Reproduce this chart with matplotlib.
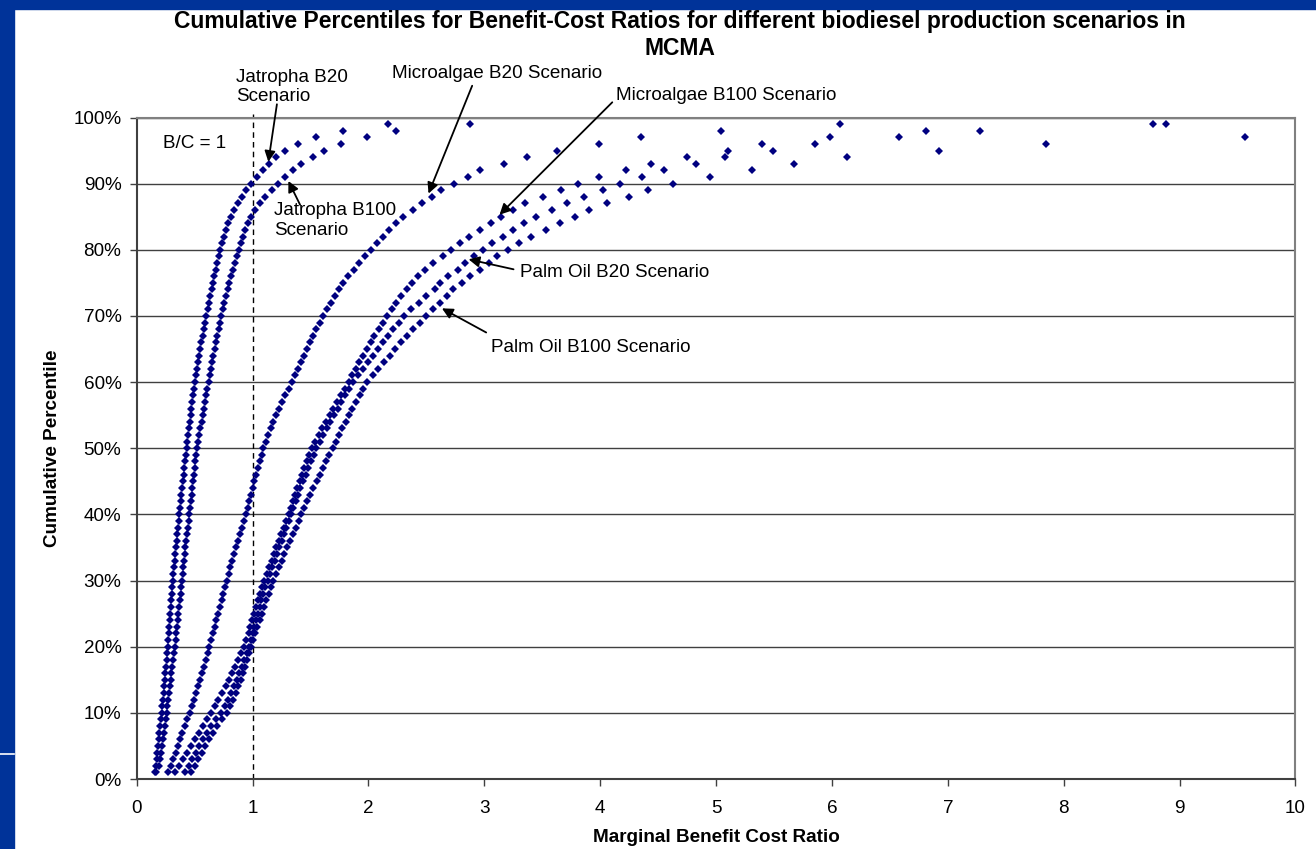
import numpy as np
import matplotlib
matplotlib.use('Agg')
import matplotlib.pyplot as plt

plt.rcParams['font.family'] = ['Liberation Sans', 'DejaVu Sans']

# cumulative percentile (1..99 %) for each scenario, x = marginal B/C ratio
PCT = list(range(1, 100))

jatropha_b20 = [
    0.155, 0.165, 0.172, 0.178, 0.183, 0.189, 0.195, 0.201, 0.208, 0.215,
    0.221, 0.227, 0.233, 0.238, 0.243, 0.248, 0.253, 0.258, 0.264, 0.270,
    0.274, 0.278, 0.283, 0.287, 0.291, 0.295, 0.299, 0.303, 0.307, 0.312,
    0.317, 0.322, 0.327, 0.332, 0.338, 0.344, 0.350, 0.356, 0.362, 0.368,
    0.374, 0.380, 0.386, 0.392, 0.398, 0.404, 0.410, 0.417, 0.423, 0.430,
    0.437, 0.444, 0.451, 0.458, 0.465, 0.472, 0.479, 0.486, 0.493, 0.500,
    0.509, 0.518, 0.527, 0.537, 0.548, 0.558, 0.568, 0.578, 0.589, 0.600,
    0.611, 0.622, 0.634, 0.646, 0.658, 0.670, 0.682, 0.694, 0.707, 0.720,
    0.736, 0.753, 0.771, 0.790, 0.810, 0.838, 0.870, 0.905, 0.945, 0.990,
    1.040, 1.090, 1.140, 1.200, 1.280, 1.390, 1.550, 1.780, 2.170,
]

jatropha_b100 = [
    0.170, 0.195, 0.205, 0.213, 0.220, 0.227, 0.234, 0.241, 0.250, 0.258,
    0.265, 0.272, 0.279, 0.286, 0.293, 0.300, 0.308, 0.315, 0.322, 0.330,
    0.336, 0.342, 0.348, 0.354, 0.360, 0.366, 0.372, 0.378, 0.384, 0.390,
    0.396, 0.402, 0.408, 0.414, 0.420, 0.427, 0.434, 0.441, 0.448, 0.455,
    0.461, 0.467, 0.473, 0.480, 0.487, 0.494, 0.500, 0.507, 0.514, 0.521,
    0.530, 0.540, 0.550, 0.560, 0.570, 0.580, 0.590, 0.600, 0.610, 0.620,
    0.630, 0.640, 0.651, 0.662, 0.673, 0.684, 0.695, 0.707, 0.719, 0.731,
    0.744, 0.757, 0.771, 0.785, 0.800, 0.815, 0.831, 0.847, 0.863, 0.880,
    0.898, 0.917, 0.937, 0.960, 0.990, 1.025, 1.065, 1.110, 1.165, 1.220,
    1.280, 1.350, 1.420, 1.520, 1.620, 1.760, 1.990, 2.240, 2.880,
]

microalgae_b20 = [
    0.270, 0.295, 0.315, 0.335, 0.355, 0.375, 0.395, 0.415, 0.437, 0.460,
    0.478, 0.496, 0.514, 0.532, 0.550, 0.566, 0.582, 0.598, 0.613, 0.628,
    0.643, 0.658, 0.673, 0.688, 0.702, 0.717, 0.732, 0.747, 0.762, 0.777,
    0.793, 0.808, 0.824, 0.840, 0.856, 0.873, 0.890, 0.907, 0.925, 0.943,
    0.958, 0.972, 0.987, 1.001, 1.016, 1.031, 1.046, 1.062, 1.078, 1.094,
    1.114, 1.135, 1.157, 1.180, 1.204, 1.229, 1.255, 1.282, 1.310, 1.338,
    1.364, 1.390, 1.416, 1.442, 1.468, 1.495, 1.522, 1.550, 1.580, 1.610,
    1.642, 1.675, 1.709, 1.744, 1.780, 1.825, 1.872, 1.921, 1.970, 2.020,
    2.070, 2.122, 2.176, 2.236, 2.300, 2.385, 2.460, 2.550, 2.630, 2.740,
    2.860, 2.960, 3.170, 3.370, 3.630, 3.990, 4.350, 5.040, 6.070,
]

microalgae_b100 = [
    0.330, 0.365, 0.400, 0.435, 0.470, 0.503, 0.537, 0.571, 0.605, 0.640,
    0.672, 0.704, 0.736, 0.767, 0.797, 0.825, 0.852, 0.878, 0.904, 0.928,
    0.947, 0.965, 0.982, 0.999, 1.016, 1.033, 1.050, 1.067, 1.084, 1.101,
    1.122, 1.143, 1.164, 1.185, 1.206, 1.227, 1.248, 1.269, 1.290, 1.311,
    1.330, 1.349, 1.368, 1.387, 1.407, 1.427, 1.447, 1.468, 1.489, 1.510,
    1.540, 1.570, 1.601, 1.632, 1.664, 1.696, 1.729, 1.762, 1.796, 1.830,
    1.860, 1.890, 1.920, 1.955, 1.990, 2.020, 2.050, 2.090, 2.125, 2.160,
    2.200, 2.240, 2.280, 2.330, 2.380, 2.430, 2.490, 2.560, 2.640, 2.710,
    2.790, 2.870, 2.960, 3.060, 3.140, 3.250, 3.350, 3.510, 3.660, 3.810,
    3.990, 4.220, 4.440, 4.750, 5.100, 5.400, 5.980, 6.810, 8.770,
]

palm_b20 = [
    0.420, 0.450, 0.480, 0.510, 0.540, 0.575, 0.610, 0.645, 0.688, 0.730,
    0.760, 0.788, 0.815, 0.840, 0.864, 0.887, 0.909, 0.930, 0.950, 0.970,
    0.985, 1.000, 1.015, 1.030, 1.045, 1.060, 1.076, 1.092, 1.110, 1.130,
    1.150, 1.170, 1.190, 1.210, 1.230, 1.250, 1.270, 1.290, 1.310, 1.330,
    1.350, 1.371, 1.392, 1.413, 1.435, 1.458, 1.481, 1.504, 1.527, 1.550,
    1.580, 1.610, 1.641, 1.672, 1.703, 1.735, 1.767, 1.800, 1.835, 1.870,
    1.911, 1.952, 1.994, 2.037, 2.080, 2.125, 2.170, 2.215, 2.262, 2.310,
    2.370, 2.435, 2.500, 2.570, 2.620, 2.690, 2.770, 2.830, 2.910, 2.990,
    3.070, 3.160, 3.250, 3.340, 3.450, 3.580, 3.710, 3.860, 4.020, 4.170,
    4.360, 4.550, 4.830, 5.080, 5.490, 5.850, 6.580, 7.280, 8.880,
]

# top two percentiles fall beyond the x-axis range
palm_b100 = [
    0.470, 0.500, 0.530, 0.560, 0.590, 0.625, 0.660, 0.695, 0.737, 0.780,
    0.806, 0.830, 0.853, 0.875, 0.896, 0.916, 0.935, 0.953, 0.970, 0.987,
    1.005, 1.023, 1.042, 1.061, 1.080, 1.100, 1.120, 1.140, 1.160, 1.180,
    1.203, 1.226, 1.250, 1.274, 1.298, 1.322, 1.347, 1.372, 1.397, 1.422,
    1.447, 1.473, 1.499, 1.525, 1.552, 1.579, 1.606, 1.634, 1.662, 1.690,
    1.718, 1.746, 1.774, 1.803, 1.832, 1.862, 1.892, 1.923, 1.955, 1.988,
    2.035, 2.083, 2.132, 2.182, 2.232, 2.283, 2.335, 2.388, 2.442, 2.497,
    2.560, 2.620, 2.675, 2.730, 2.810, 2.880, 2.960, 3.040, 3.110, 3.200,
    3.300, 3.400, 3.530, 3.650, 3.780, 3.900, 4.060, 4.250, 4.410, 4.630,
    4.950, 5.310, 5.670, 6.130, 6.920, 7.850, 9.560,
]

SERIES = [jatropha_b20, jatropha_b100, microalgae_b20,
          microalgae_b100, palm_b20, palm_b100]

X_TICKS = list(range(0, 11))
Y_TICKS = list(range(0, 101, 10))

NAVY = '#000080'
SLIDE_BLUE = '#003399'
FS = 13.6

W, H = 1316, 849
fig = plt.figure(figsize=(W / 100, H / 100), dpi=100)

# slide frame (blue strips top/left)
fig.patches.append(plt.Rectangle((0, 0), 13.5 / W, 1, transform=fig.transFigure,
                                 color=SLIDE_BLUE, zorder=0))
fig.patches.append(plt.Rectangle((0, 1 - 9 / H), 1, 9 / H, transform=fig.transFigure,
                                 color=SLIDE_BLUE, zorder=0))
fig.add_artist(plt.Line2D([0, 13.5 / W], [1 - 754 / H] * 2, transform=fig.transFigure,
                          color='white', lw=1.2))

ax = fig.add_axes([136.7 / W, 1 - 779 / H, (1295.5 - 136.7) / W, (779 - 117.5) / H])

for xs in SERIES:
    ax.plot(xs, PCT[:len(xs)], linestyle='none', marker='D', markersize=4.1,
            color=NAVY, markeredgewidth=0, zorder=3, clip_on=True)

ax.set_xlim(0, 10)
ax.set_ylim(0, 100)
ax.set_xticks(X_TICKS)
ax.set_yticks(Y_TICKS)
ax.set_yticklabels([f'{v}%' for v in Y_TICKS])
ax.tick_params(axis='both', direction='out', length=5, width=1, color='#404040',
               labelsize=FS)
ax.tick_params(axis='y', pad=6)
ax.tick_params(axis='x', pad=10)

ax.grid(axis='y', color='#404040', lw=1.0)
ax.set_axisbelow(True)
for s in ['left', 'bottom']:
    ax.spines[s].set_color('#404040')
    ax.spines[s].set_linewidth(1.5)
for s in ['top', 'right']:
    ax.spines[s].set_color('#808080')
    ax.spines[s].set_linewidth(1.5)

# B/C = 1 reference line
ax.plot([1, 1], [0, 100.5], color='black', lw=1.0, linestyle=(0, (4, 3)),
        clip_on=False, zorder=2)
ax.text(0.227, 96.1, 'B/C = 1', fontsize=FS, ha='left', va='center')

fig.text(716 / W, 1 - 838 / H, 'Marginal Benefit Cost Ratio', fontsize=FS,
         fontweight='bold', ha='center', va='center')
fig.text(53 / W, 1 - 448 / H, 'Cumulative Percentile', fontsize=FS,
         fontweight='bold', ha='center', va='center', rotation=90)

fig.text(680 / W, 1 - 35 / H,
         'Cumulative Percentiles for Benefit-Cost Ratios for different biodiesel production scenarios in\nMCMA',
         ha='center', va='center', fontsize=16.5, fontweight='bold', linespacing=1.25)

arrow = dict(arrowstyle='-|>', color='black', lw=1.3, mutation_scale=16,
             shrinkA=0, shrinkB=0)
labels = [
    ('Jatropha B20\nScenario', (0.857, 104.6), (1.21, 102.0), (1.136, 93.3)),
    ('Microalgae B20 Scenario', (2.205, 106.7), (2.895, 104.8), (2.518, 88.5)),
    ('Microalgae B100 Scenario', (4.139, 103.4), (4.104, 102.3), (3.131, 85.3)),
    ('Jatropha B100\nScenario', (1.186, 84.4), (1.41, 86.8), (1.309, 90.4)),
    ('Palm Oil B20 Scenario', (3.31, 76.6), (3.252, 77.05), (2.864, 78.56)),
    ('Palm Oil B100 Scenario', (3.06, 65.3), (3.016, 67.5), (2.634, 71.15)),
]
for txt, tpos, a0, a1 in labels:
    ax.text(tpos[0], tpos[1], txt, fontsize=FS, ha='left', va='center',
            linespacing=1.2, clip_on=False)
    ax.annotate('', xy=a1, xytext=a0, arrowprops=arrow, annotation_clip=False)

fig.savefig('out.png', dpi=100)
